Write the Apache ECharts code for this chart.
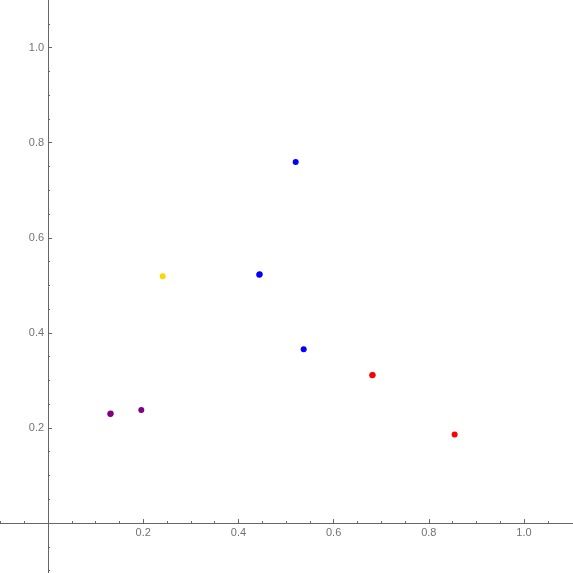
<!DOCTYPE html>
<html>
<head>
<meta charset="utf-8">
<script src="https://cdn.jsdelivr.net/npm/echarts@6/dist/echarts.min.js"></script>
<style>
  html, body { margin: 0; padding: 0; background: #fff; }
  #main { width: 573px; height: 573px; }
</style>
</head>
<body>
<div id="main"></div>
<script>
// points, grouped by colour (the heavier dots are a few points lying on top of each other)
const purplePts = [[0.1308, 0.2295], [0.1316, 0.2304], [0.1959, 0.2379]];
const yellowPts = [[0.2409, 0.5192]];
const bluePts = [[0.5203, 0.7592], [0.4438, 0.5221], [0.4446, 0.5230], [0.5371, 0.3655]];
const redPts = [[0.6812, 0.3107], [0.6820, 0.3116], [0.8543, 0.1865]];

const majorTicks = [0.2, 0.4, 0.6, 0.8, 1.0];
const minorTicks = [-0.1, -0.05, 0.05, 0.1, 0.15, 0.25, 0.3, 0.35, 0.45, 0.5, 0.55,
  0.65, 0.7, 0.75, 0.85, 0.9, 0.95, 1.05];

const xRange = [-0.101, 1.103];
const yRange = [-0.105, 1.1];

const W = 573, H = 573;
const axisColor = '#666666';
const labelColor = '#727272';

// where the zero lines fall, so the axes can be pulled in from the edges
const xZeroOffset = -W * (0 - xRange[0]) / (xRange[1] - xRange[0]);
const yZeroOffset = -H * (0 - yRange[0]) / (yRange[1] - yRange[0]);

const chart = echarts.init(document.getElementById('main'));

function majorAxis(range, pos, offset) {
  return {
    type: 'value',
    position: pos,
    offset: offset,
    min: range[0],
    max: range[1],
    splitLine: { show: false },
    axisLine: { show: true, onZero: false, lineStyle: { color: axisColor, width: 1 } },
    axisTick: { show: true, inside: true, length: 4, customValues: majorTicks, lineStyle: { color: axisColor } },
    axisLabel: {
      show: true,
      customValues: majorTicks,
      margin: 4,
      color: labelColor,
      fontSize: 11,
      fontFamily: 'Liberation Sans',
      formatter: v => v.toFixed(1)
    }
  };
}

function minorAxis(range, pos, offset) {
  return {
    type: 'value',
    position: pos,
    offset: offset,
    min: range[0],
    max: range[1],
    splitLine: { show: false },
    axisLine: { show: false, onZero: false },
    axisTick: { show: true, inside: true, length: 2, customValues: minorTicks, lineStyle: { color: axisColor } },
    axisLabel: { show: false }
  };
}

function pts(data, color) {
  return {
    type: 'scatter',
    data: data,
    symbol: 'circle',
    symbolSize: 6,
    itemStyle: { color: color, opacity: 1 },
    z: 5
  };
}

chart.setOption({
  animation: false,
  backgroundColor: '#ffffff',
  grid: { left: 0, right: 0, top: 0, bottom: 0, containLabel: false, outerBoundsMode: 'none' },
  xAxis: [majorAxis(xRange, 'bottom', yZeroOffset), minorAxis(xRange, 'bottom', yZeroOffset)],
  yAxis: [majorAxis(yRange, 'left', xZeroOffset), minorAxis(yRange, 'left', xZeroOffset)],
  series: [
    pts(purplePts, '#800080'),
    pts(yellowPts, '#FFD700'),
    pts(bluePts, '#0000FF'),
    pts(redPts, '#FF0000')
  ]
});
</script>
</body>
</html>
